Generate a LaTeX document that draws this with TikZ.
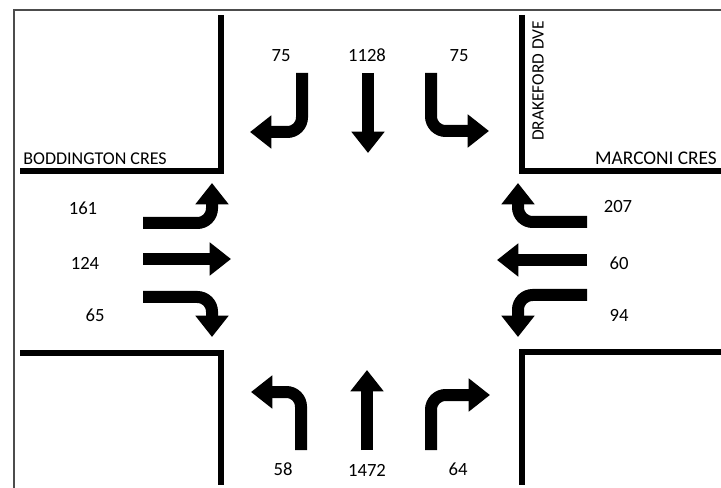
\documentclass[tikz,border=0pt]{standalone}
\usepackage{fontspec}
\setmainfont{Carlito}
\usetikzlibrary{arrows.meta}

\begin{document}
\begin{tikzpicture}[
    x=0.75pt, y=-0.75pt,
    road/.style={line width=4pt, line join=miter},
    flow/.style={
        line width=9pt,
        rounded corners=11pt,
        -{Triangle[width=24pt, length=16pt]}
    },
    vol/.style={font=\fontsize{14}{16}\selectfont, inner sep=0pt},
    street/.style={font=\fontsize{13.5}{15}\selectfont, inner sep=0pt}
]

\useasboundingbox (0,0) rectangle (721,488);
\fill[white] (0,0) rectangle (721,488);
\draw[black!70, line width=1.2pt] (14,488) -- (14,10) -- (721,10);

% kerb lines
\draw[road] (20,171) -- (221,171) -- (221,15);
\draw[road] (522,15) -- (522,171) -- (721,171);
\draw[road] (20,353) -- (221,353) -- (221,485);
\draw[road] (721,352) -- (522,352) -- (522,485);

% street names
\node[street] (boddington) at (95,159) {BODDINGTON CRES};
\node[street, font=\fontsize{14.5}{16}\selectfont] (marconi) at (656,158) {MARCONI CRES};
\node[street, font=\fontsize{13}{15}\selectfont, rotate=90] (drakeford) at (538,81) {DRAKEFORD DVE};

% volumes
\node[vol] (sbr) at (281,56) {75};
\node[vol] (sbt) at (367,55) {1128};
\node[vol] (sbl) at (459,56) {75};
\node[vol] (ebl) at (83,208) {161};
\node[vol] (ebt) at (85,263) {124};
\node[vol] (ebr) at (95,315) {65};
\node[vol] (wbr) at (618,207) {207};
\node[vol] (wbt) at (619,263) {60};
\node[vol] (wbl) at (619,315) {94};
\node[vol] (nbl) at (283,469) {58};
\node[vol] (nbt) at (367,470) {1472};
\node[vol] (nbr) at (458,469) {64};

% southbound
\draw[flow] (302,73) -- (302,132) -- (250,132);
\draw[flow] (368,73) -- (368,153);
\draw[flow] (431,73) -- (431,131) -- (489,131);

% eastbound
\draw[flow] (143,223) -- (212,223) -- (212,183);
\draw[flow] (143,259) -- (231,259);
\draw[flow] (143,297) -- (212,297) -- (212,337);

% westbound
\draw[flow] (587,222) -- (518,222) -- (518,183);
\draw[flow] (587,260) -- (497,260);
\draw[flow] (587,295) -- (518,295) -- (518,337);

% northbound
\draw[flow] (301,450) -- (301,392) -- (251,392);
\draw[flow] (367,450) -- (367,370);
\draw[flow] (431,450) -- (431,395) -- (490,395);

\end{tikzpicture}
\end{document}
